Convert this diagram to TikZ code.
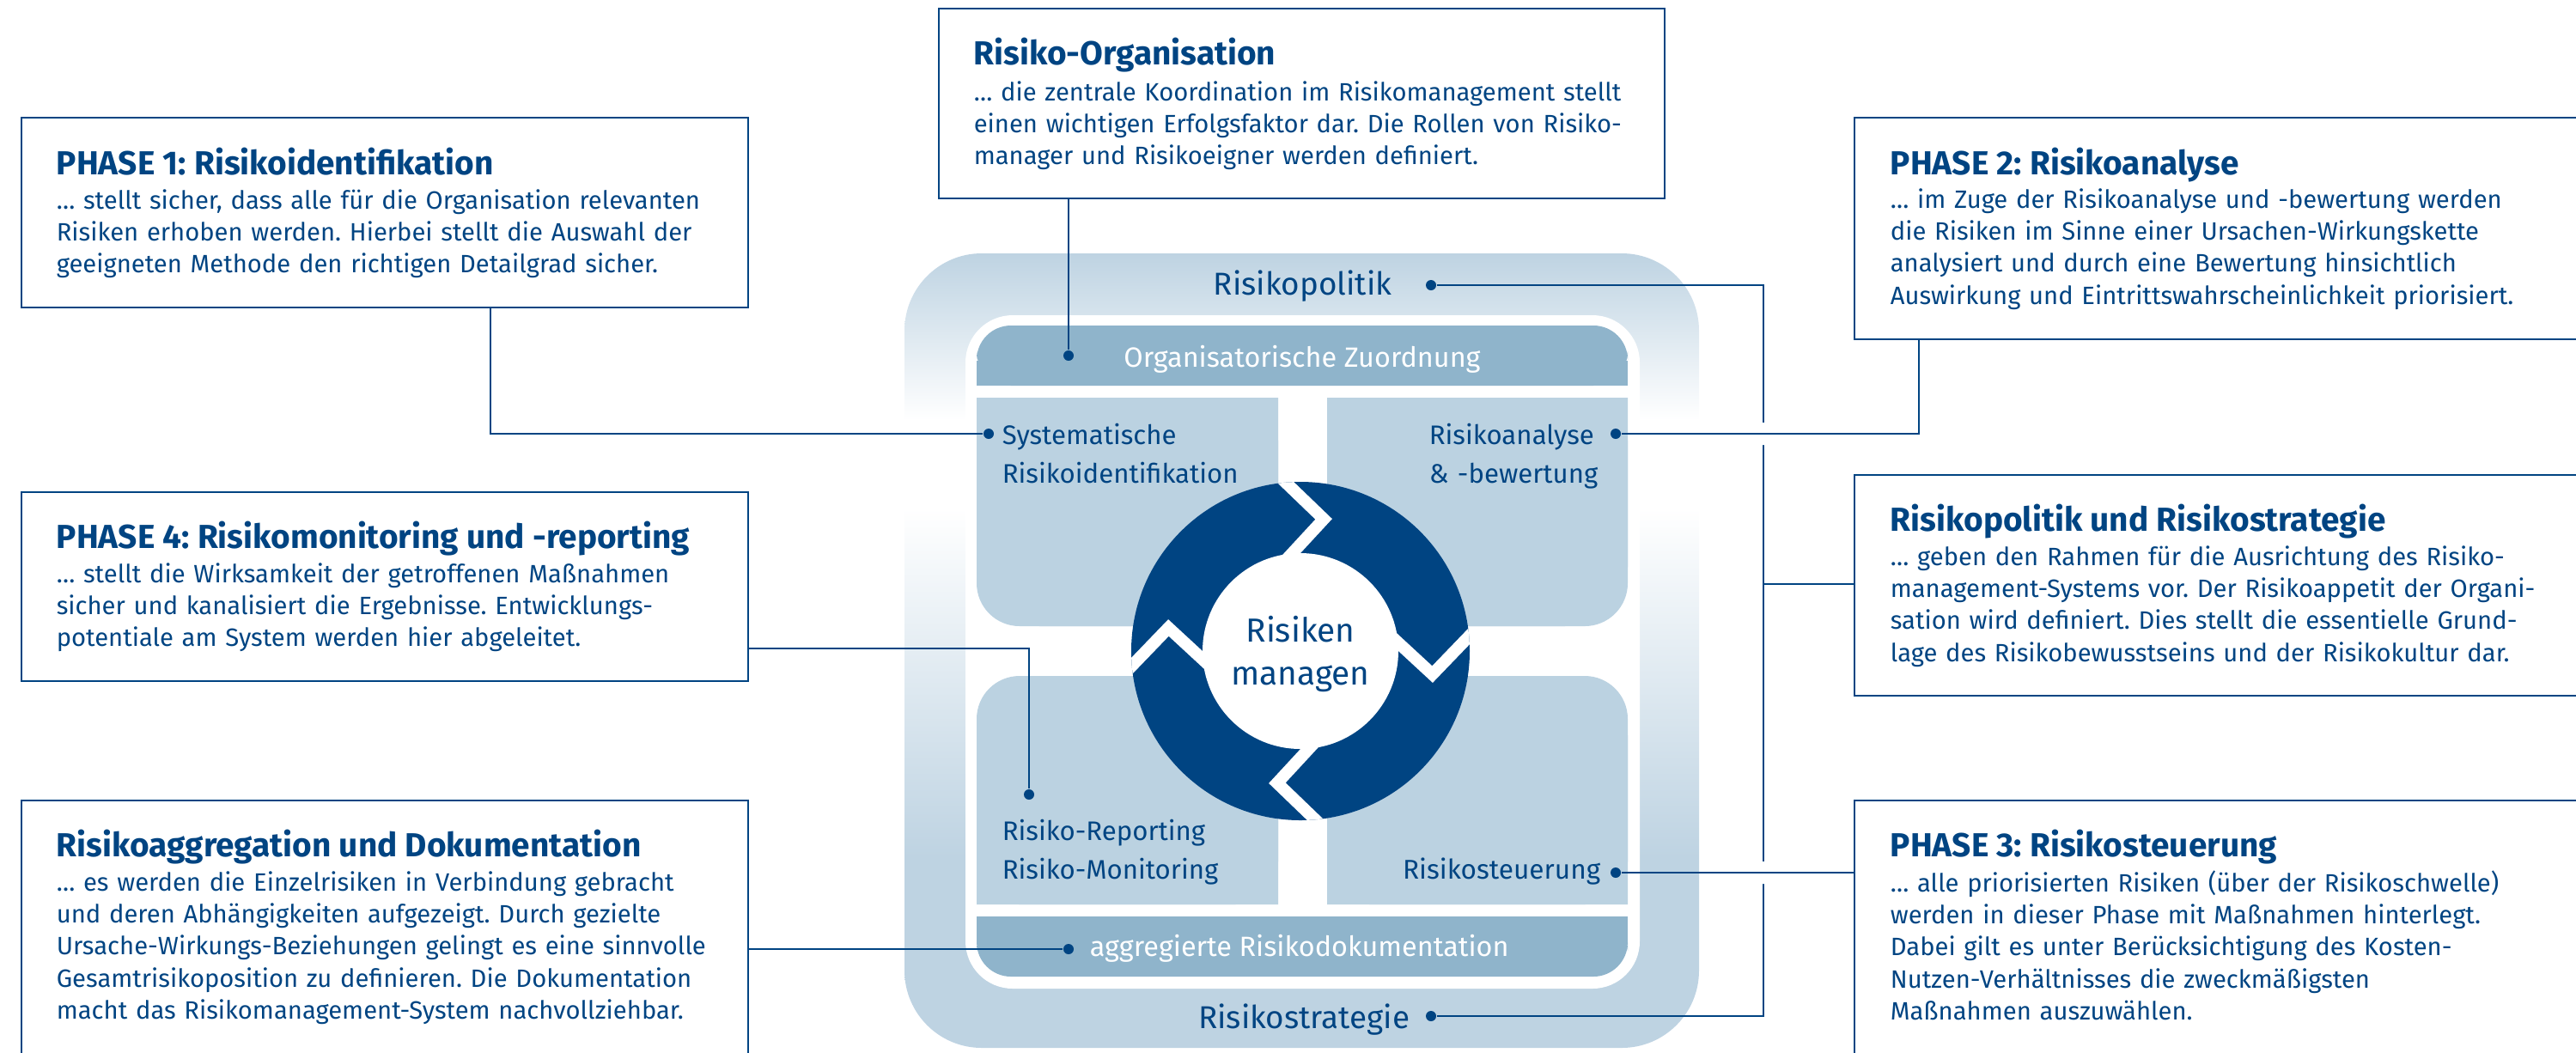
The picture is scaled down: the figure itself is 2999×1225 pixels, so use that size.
\documentclass[tikz,border=0pt]{standalone}
\usepackage{fontspec}
\setmainfont{Fira Sans}
\usetikzlibrary{fit,calc}
\definecolor{rmblue}{RGB}{0,68,130}
\definecolor{rmquad}{RGB}{187,210,225}
\definecolor{rmbar}{RGB}{143,180,203}
\definecolor{rmframe}{RGB}{190,211,226}
\pgfdeclareverticalshading{rmfade}{100bp}{color(0bp)=(rmframe); color(25bp)=(rmframe); color(37bp)=(rmframe); color(59bp)=(white); color(64.5bp)=(white); color(75bp)=(rmframe); color(100bp)=(rmframe)}
\frenchspacing
\begin{document}
\begin{tikzpicture}
  [x=0.25pt,y=-0.25pt,
   every node/.style={inner sep=0pt,text=rmblue},
   infobox/.style={draw=rmblue,line width=0.7pt,fit={#1}},
   boxhead/.style={anchor=base west,font=\bfseries\fontsize{9.7pt}{11pt}\selectfont},
   boxtext/.style={anchor=base west,text width=240pt,align=left,font=\fontsize{7.3pt}{9.35pt}\selectfont},
   quadlabel/.style={anchor=base west,text width=100pt,align=left,font=\fontsize{7.8pt}{11.25pt}\selectfont},
   barlabel/.style={text=white,font=\fontsize{8.1pt}{10pt}\selectfont},
   framelabel/.style={anchor=base east,font=\fontsize{9.2pt}{11pt}\selectfont},
   dot/.style={circle,fill=rmblue,minimum size=3pt},
   link/.style={draw=rmblue,line width=0.6pt},
   gap/.style={draw=white,line width=3.5pt,line join=miter}]
  \useasboundingbox (0,0) rectangle (2999,1225);

  \shade[shading=rmfade,rounded corners=22.5pt] (1053,295) rectangle (1978,1220);
  \fill[white,rounded corners=13.75pt] (1124,367) rectangle (1909,1151);

  \fill[rmbar,rounded corners=10pt] (1137,379) rectangle (1895,449);
  \fill[rmbar] (1137,420) rectangle (1895,449);
  \fill[rmbar,rounded corners=10pt] (1137,1067) rectangle (1895,1137);
  \fill[rmbar] (1137,1067) rectangle (1895,1100);

  \fill[rmquad,rounded corners=12.5pt] (1137,463) rectangle (1488,729);
  \fill[rmquad] (1137,463) rectangle (1488,660) (1210,463) rectangle (1488,729);
  \fill[rmquad,rounded corners=12.5pt] (1545,463) rectangle (1895,729);
  \fill[rmquad] (1545,463) rectangle (1895,660) (1545,463) rectangle (1822,729);
  \fill[rmquad,rounded corners=12.5pt] (1137,787) rectangle (1488,1053);
  \fill[rmquad] (1137,856) rectangle (1488,1053) (1210,787) rectangle (1488,1053);
  \fill[rmquad,rounded corners=12.5pt] (1545,787) rectangle (1895,1053);
  \fill[rmquad] (1545,856) rectangle (1895,1053) (1545,787) rectangle (1822,1053);

  \coordinate (hub) at (1514,758);
  \fill[rmblue] (hub) circle[radius=197];
  \begin{scope}
    \clip (hub) circle[radius=197];
    \foreach \a in {90,0,-90,180}{
      \path ($(hub)+({-(\a-10)}:156)$) coordinate (tip)
            ($(hub)+({-(\a+5)}:197)$) coordinate (out)
            ($(hub)+({-(\a+5)}:114)$) coordinate (in);
      \draw[gap] ($(tip)!1.6!(out)$) -- (tip) -- ($(tip)!1.6!(in)$);
    }
  \end{scope}
  \fill[white] (hub) circle[radius=114];
  \node[anchor=base,text width=80pt,align=center,font=\fontsize{9.7pt}{12.5pt}\selectfont] (hubtext) at (1514,747) {Risiken\\managen};

  \node[framelabel] (politik) at (1621,343) {Risikopolitik};
  \node[framelabel] (strategie) at (1642,1197) {Risikostrategie};
  \node[barlabel,anchor=base] (zuordnung) at (1516,427) {Organisatorische Zuordnung};
  \node[barlabel,anchor=base west] (doku) at (1268,1113) {aggregierte Risikodokumentation};
  \node[quadlabel] (ident) at (1166,517) {Systematische\\Risikoidentifikation};
  \node[quadlabel] (analyse) at (1663,517) {Risikoanalyse\\\& -bewertung};
  \node[quadlabel] (report) at (1166,978) {Risiko-Reporting\\Risiko-Monitoring};
  \node[framelabel,font=\fontsize{7.9pt}{10pt}\selectfont] (steuer) at (1864,1023) {Risikosteuerung};

  \node[infobox={(1093,10) (1938,231)}] (org) {};
  \node[infobox={(25,137) (871,358)}] (p1) {};
  \node[infobox={(25,573) (871,793)}] (p4) {};
  \node[infobox={(25,932) (871,1260)}] (agg) {};
  \node[infobox={(2159,137) (3030,395)}] (p2) {};
  \node[infobox={(2159,553) (3030,810)}] (pol) {};
  \node[infobox={(2159,932) (3030,1260)}] (p3) {};

  \node[boxhead] (org-head) at (1133,75) {Risiko-Organisation};
  \node[boxtext] (org-text) at (1133,117) {… die zentrale Koordination im Risikomanagement stellt\\einen wichtigen Erfolgsfaktor dar. Die Rollen von Risiko-\\manager und Risikoeigner werden definiert.};
  \node[boxhead] (p1-head) at (65,203) {PHASE 1: Risikoidentifikation};
  \node[boxtext] (p1-text) at (65,243) {… stellt sicher, dass alle für die Organisation relevanten\\Risiken erhoben werden. Hierbei stellt die Auswahl der\\geeigneten Methode den richtigen Detailgrad sicher.};
  \node[boxhead] (p4-head) at (65,638) {PHASE 4: Risikomonitoring und -reporting};
  \node[boxtext] (p4-text) at (65,678) {… stellt die Wirksamkeit der getroffenen Maßnahmen\\sicher und kanalisiert die Ergebnisse. Entwicklungs-\\potentiale am System werden hier abgeleitet.};
  \node[boxhead] (agg-head) at (65,997) {Risikoaggregation und Dokumentation};
  \node[boxtext] (agg-text) at (65,1037) {… es werden die Einzelrisiken in Verbindung gebracht\\und deren Abhängigkeiten aufgezeigt. Durch gezielte\\Ursache-Wirkungs-Beziehungen gelingt es eine sinnvolle\\Gesamtrisikoposition zu definieren. Die Dokumentation\\macht das Risikomanagement-System nachvollziehbar.};
  \node[boxhead] (p2-head) at (2200,203) {PHASE 2: Risikoanalyse};
  \node[boxtext] (p2-text) at (2200,242) {… im Zuge der Risikoanalyse und -bewertung werden\\die Risiken im Sinne einer Ursachen-Wirkungskette\\analysiert und durch eine Bewertung hinsichtlich\\Auswirkung und Eintrittswahrscheinlichkeit priorisiert.};
  \node[boxhead] (pol-head) at (2200,618) {Risikopolitik und Risikostrategie};
  \node[boxtext] (pol-text) at (2200,658) {… geben den Rahmen für die Ausrichtung des Risiko-\\management-Systems vor. Der Risikoappetit der Organi-\\sation wird definiert. Dies stellt die essentielle Grund-\\lage des Risikobewusstseins und der Risikokultur dar.};
  \node[boxhead] (p3-head) at (2200,997) {PHASE 3: Risikosteuerung};
  \node[boxtext] (p3-text) at (2200,1038) {… alle priorisierten Risiken (über der Risikoschwelle)\\werden in dieser Phase mit Maßnahmen hinterlegt.\\Dabei gilt es unter Berücksichtigung des Kosten-\\Nutzen-Verhältnisses die zweckmäßigsten\\Maßnahmen auszuwählen.};

  \node[dot] (d-org) at (1244,414) {};
  \node[dot] (d-ident) at (1151,505) {};
  \node[dot] (d-analyse) at (1881,505) {};
  \node[dot] (d-report) at (1198,925) {};
  \node[dot] (d-steuer) at (1881,1016) {};
  \node[dot] (d-doku) at (1244,1105) {};
  \node[dot] (d-politik) at (1666,332) {};
  \node[dot] (d-strategie) at (1666,1183) {};

  \coordinate (k1) at (571,505);
  \coordinate (k4) at (1198,755);
  \coordinate (k2) at (2234,505);
  \coordinate (j-top) at (2053,332);
  \coordinate (j-mid) at (2053,680);
  \coordinate (j-bot) at (2053,1183);

  \draw[link] (org.south -| d-org) -- (d-org);
  \draw[link] (p1.south -| k1) -- (k1) -- (d-ident);
  \draw[link] (p4.east |- k4) -- (k4) -- (d-report);
  \draw[link] (agg.east |- d-doku) -- (d-doku);
  \draw[link] (d-politik) -- (j-top) -- (j-bot) -- (d-strategie);
  \draw[link] (j-mid) -- (pol.west |- j-mid);
  \fill[white] (2045,492) rectangle (2061,518) (2045,1003) rectangle (2061,1029);
  \draw[link] (p2.south -| k2) -- (k2) -- (d-analyse);
  \draw[link] (p3.west |- d-steuer) -- (d-steuer);
\end{tikzpicture}
\end{document}
